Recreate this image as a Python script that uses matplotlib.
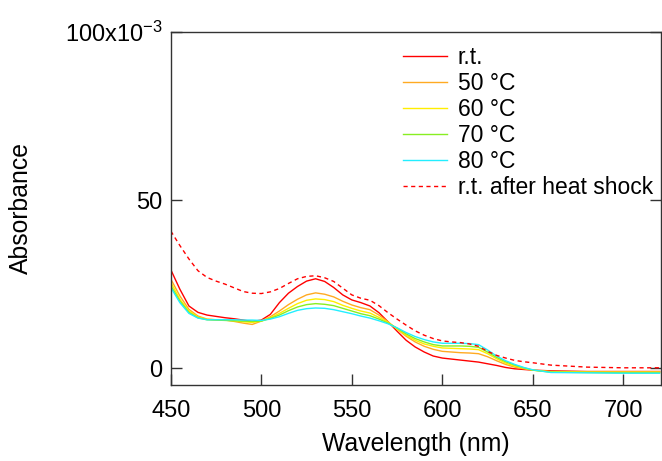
import numpy as np
import matplotlib
matplotlib.use("Agg")
import matplotlib.pyplot as plt

plt.rcParams['font.family'] = ['Liberation Sans', 'DejaVu Sans']
plt.rcParams['mathtext.fontset'] = 'custom'
plt.rcParams['mathtext.rm'] = 'Liberation Sans'
plt.rcParams['mathtext.it'] = 'Liberation Sans:italic'

# Longitud de onda (nm)
wavelength = [450, 455, 460, 465, 470, 475, 480, 485, 490, 495, 500, 505, 510, 515, 520,
              525, 530, 535, 540, 545, 550, 555, 560, 565, 570, 575, 580, 585, 590, 595,
              600, 605, 610, 615, 620, 625, 630, 635, 640, 645, 650, 660, 680, 700, 720]

# Absorbancia (x10^-3)
rt = [29.3, 23.5, 18.5, 16.6, 15.8, 15.4, 15.0, 14.7, 14.3, 13.9, 14.3, 16.0, 19.5, 22.3, 24.3,
      25.9, 26.6, 25.8, 24.0, 21.8, 20.3, 19.5, 18.5, 16.5, 13.8, 11.0, 8.3, 6.3, 4.8, 3.6,
      3.0, 2.7, 2.4, 2.1, 1.8, 1.3, 0.8, 0.2, -0.2, -0.4, -0.6, -0.8, -1.0, -1.0, -1.0]
t50 = [26.5, 21.5, 17.5, 15.5, 14.6, 14.4, 14.3, 13.9, 13.4, 13.0, 14.0, 15.3, 17.0, 18.9, 20.5,
       21.8, 22.4, 22.0, 21.2, 19.9, 18.8, 18.0, 17.4, 15.8, 13.8, 11.6, 9.5, 7.8, 6.5, 5.6,
       5.0, 4.8, 4.6, 4.5, 4.3, 3.4, 2.2, 1.1, 0.3, -0.2, -0.6, -1.0, -1.1, -1.1, -1.1]
t60 = [25.5, 20.5, 17.0, 15.2, 14.5, 14.4, 14.3, 14.1, 13.8, 13.6, 14.0, 15.0, 16.3, 17.8, 19.2,
       20.2, 20.6, 20.4, 19.8, 18.7, 17.8, 17.0, 16.4, 15.1, 13.6, 11.7, 9.8, 8.3, 7.2, 6.5,
       6.0, 5.9, 5.8, 5.7, 5.5, 4.3, 2.8, 1.5, 0.6, 0.0, -0.6, -1.1, -1.2, -1.2, -1.2]
t70 = [24.5, 20.0, 16.6, 15.0, 14.4, 14.3, 14.2, 14.1, 14.0, 13.9, 14.0, 14.8, 15.8, 17.1, 18.2,
       18.9, 19.2, 19.0, 18.6, 17.8, 17.0, 16.2, 15.6, 14.6, 13.4, 11.9, 10.2, 8.8, 7.8, 7.0,
       6.6, 6.6, 6.6, 6.5, 6.2, 4.8, 3.2, 1.9, 0.9, 0.1, -0.6, -1.2, -1.3, -1.4, -1.4]
t80 = [24.0, 19.5, 16.3, 14.9, 14.4, 14.4, 14.4, 14.4, 14.3, 14.3, 14.2, 14.6, 15.3, 16.3, 17.2,
       17.7, 17.9, 17.8, 17.4, 16.8, 16.2, 15.5, 14.9, 14.1, 13.2, 12.0, 10.6, 9.4, 8.5, 7.8,
       7.4, 7.4, 7.4, 7.3, 7.0, 5.4, 3.6, 2.2, 1.1, 0.2, -0.5, -1.3, -1.4, -1.5, -1.5]
rt_after = [40.8, 36.5, 32.5, 29.0, 27.0, 25.9, 25.0, 23.9, 22.8, 22.3, 22.2, 22.7, 23.7, 25.2, 26.6,
            27.3, 27.5, 26.9, 25.8, 23.8, 21.8, 20.8, 20.2, 18.6, 16.5, 14.6, 12.8, 11.1, 9.8, 8.8,
            8.1, 7.8, 7.6, 7.2, 6.5, 5.0, 3.8, 3.0, 2.3, 1.9, 1.6, 0.9, 0.3, 0.1, 0.1]

labels = ["r.t.", "50 °C", "60 °C", "70 °C", "80 °C", "r.t. after heat shock"]
colors = ["#ff0000", "#ffaa22", "#ffee00", "#88ee22", "#22eeff", "#ff0000"]

fig = plt.figure(figsize=(6.62, 4.61), dpi=100)
ax = fig.add_axes([0.258, 0.165, 0.741, 0.766])

series = [rt, t50, t60, t70, t80]
for s, lab, c in zip(series, labels[:5], colors[:5]):
    ax.plot(wavelength, s, color=c, lw=1.0, label=lab)
ax.plot(wavelength, rt_after, color=colors[5], lw=1.0, ls=(0, (3, 2.5)), label=labels[5])

ax.set_xlim(450, 721)
ax.set_ylim(-5, 100.1)
ax.set_xticks([450, 500, 550, 600, 650, 700])
ax.set_yticks([0, 50, 100])
ax.set_yticklabels(["0", "50", "100x10$^{-3}$"])

ax.tick_params(axis='both', direction='in', length=8, width=1, labelsize=17, color='#333333')
ax.tick_params(axis='y', right=True, pad=6)
ax.tick_params(axis='x', pad=11)
for sp in ax.spines.values():
    sp.set_color('#333333')
    sp.set_linewidth(1)

ax.set_xlabel("Wavelength (nm)", fontsize=17.8, labelpad=7)
ax.set_ylabel("Absorbance", fontsize=17.8)
ax.yaxis.set_label_coords(-0.281, 0.5)

ax.legend(loc='upper left', bbox_to_anchor=(0.474, 0.96), frameon=False, fontsize=16.5,
          handlelength=1.92, handletextpad=0.45, labelspacing=0.13, borderpad=0,
          borderaxespad=0)

fig.savefig("out.png", dpi=100)
